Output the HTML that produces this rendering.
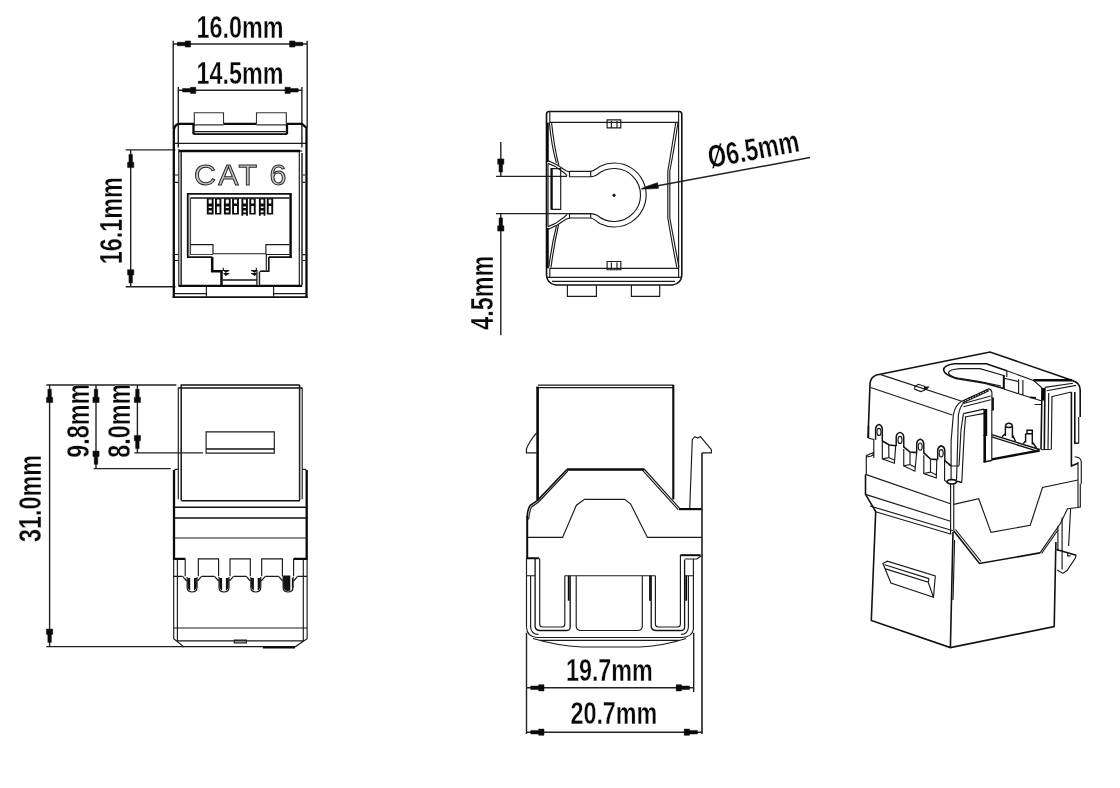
<!DOCTYPE html>
<html><head><meta charset="utf-8"><title>CAT 6 keystone jack dimensions</title>
<style>
html,body{margin:0;padding:0;background:#fff;}
body{width:1120px;height:788px;overflow:hidden;}
svg{display:block;filter:grayscale(1);}
.t{fill:none;stroke:#1a1a1a;stroke-width:1.15;}
.m{fill:none;stroke:#111;stroke-width:1.6;}
.k{fill:none;stroke:#0a0a0a;stroke-width:2.3;}
.d{fill:none;stroke:#222;stroke-width:1.4;}
.a{fill:#0a0a0a;stroke:#0a0a0a;stroke-width:0.5;stroke-linejoin:round;}
.f{fill:#111;stroke:none;}
text{font-family:"Liberation Sans",Arial,sans-serif;font-size:31.3px;font-weight:bold;fill:#0a0a0a;stroke:#fff;stroke-width:0.35px;text-anchor:middle;}
text.o{font-weight:normal;fill:#c6c6c6;stroke:#2a2a2a;stroke-width:1;font-size:30.4px;letter-spacing:2.3px;}
</style></head>
<body>
<svg width="1120" height="788" viewBox="0 0 1120 788">
<rect width="1120" height="788" fill="#fff"/>
<defs>
<path id="ar" d="M3.8,-1.75 H11.7 V-3.1 H17 V3.1 H11.7 V1.75 H3.8 Z"/>
</defs>

<!-- ============ VIEW 1 : FRONT ============ -->
<g id="v1">
<!-- dimensions -->
<path class="d" d="M173.2,40.7V129 M307.2,40.7V127.5 M173.2,44H307.2 M178.3,87V124 M301.9,87V124 M178.3,90.3H301.9 M125.7,149.9H175.5 M125.7,286.7H175.5 M130.7,149.9V286.7"/>
<use href="#ar" class="a" transform="translate(173.6,44)"/>
<use href="#ar" class="a" transform="translate(306.6,44) scale(-1,1)"/>
<use href="#ar" class="a" transform="translate(178.8,90.3)"/>
<use href="#ar" class="a" transform="translate(302,90.3) scale(-1,1)"/>
<use href="#ar" class="a" transform="translate(130.7,150.6) rotate(90)"/>
<use href="#ar" class="a" transform="translate(130.7,286.7) rotate(-90)"/>
<text transform="translate(240,38) scale(0.746,1)">16.0mm</text>
<text transform="translate(240,84.4) scale(0.746,1)">14.5mm</text>
<text transform="translate(122.3,220.8) rotate(-90) scale(0.746,1)">16.1mm</text>
<!-- body -->
<path class="d" d="M178.3,124V147.6 M301.9,124V147.6"/>
<path class="k" d="M173.8,297.8V131Q174,125 178.6,123.9H194.4 M223.4,123.9H256.6 M286.2,123.9H302.1L306.5,127.9V297.8" style="stroke-width:2.3"/>
<path class="m" d="M172.6,297.1H307.7"/>
<path class="t" d="M194.3,124V112.7H223.5V124 M256.5,124V112.7H286.3V124 M194,124.8H223.6 M256.4,124.8H286.4" style="stroke:#333"/>
<path d="M194.5,131.6H286V134H194.5Z" fill="#c4c4c4"/>
<path class="k" d="M193.5,123.9V134.3 M287,123.9V134.3" style="stroke-width:2.3"/>
<path class="m" d="M193.5,134.1H287"/>
<path class="t" d="M194,131.5H287"/>
<path class="t" d="M174,143.4H306"/>
<path class="k" d="M179,151H300.2 M178.6,285.9H302.2" style="stroke-width:2.3"/>
<path class="t" d="M300,151H302.3"/>
<path class="t" d="M178.8,149V286 M299.3,152V285"/>
<path class="m" d="M181.2,152V285 M302,153V285" style="stroke:#333"/>
<path class="t" d="M175,175H178.6 M175,182.3H178.6 M175,254.5H178.6 M175,260.5H178.6 M302.5,175H305.5 M302.5,182.3H305.5 M302.5,254.6H305.5 M302.5,260.5H305.5"/>
<text class="o" transform="translate(241.4,184.8)">CAT 6</text>
<!-- RJ45 opening -->
<path d="M188,195H190.3V256.5H188Z" fill="#c0c0c0"/>
<path class="m" d="M187.7,257.2V193.9H290.6" style="stroke-width:1.7"/>
<path class="k" d="M290.6,193V258" style="stroke-width:2.4"/>
<path class="m" d="M187,257.2H212.2 M268.8,257.2H291.6" style="stroke-width:1.8"/>
<path class="m" d="M190.5,197.9H289.5" style="stroke-width:1.5"/>
<path class="t" d="M190.5,197.9V254.5H213" style="stroke:#444"/>
<path class="t" d="M190.5,244.6H213V253.7H265.9V244.6H289.5 M265.9,254.5H289.5"/>
<path class="k" d="M212.2,257V271.2H222.5 M221.5,270V285" style="stroke-width:2.5"/>
<path class="t" d="M266.3,254V270.5 M260.6,271.2H268.8"/>
<path class="m" d="M268.8,257V271.2H260" style="stroke-width:1.6"/>
<path d="M257,271.5H259.4V285H257Z" fill="#bdbdbd"/>
<path class="t" d="M256.8,270V285 M259.6,271.5V285"/>
<path class="m" d="M222.9,280H256.8"/>
<path class="t" d="M222.5,270.5H229.4 M223.3,267.8V271 M223.5,273.5H229.4 M251,270.5H257.5 M256.3,267.8V271 M251,273.5H256.8"/>
<path class="f" d="M224,271L229,271L225.5,273Z M224,274L229,274L225.5,276Z M251.5,271L256.5,271L255,273Z M251.5,274L256.5,274L255,276Z"/>
<!-- pins -->
<path d="M206.8,198.2H213.6V214.4H206.8Z M215,198.2H221.4V214.4H215Z M223.9,198.2H230.7V214.4H223.9Z M232.1,198.2H238.9V214.4H232.1Z M241.4,198.2H247.9V215.7H241.4Z M249.3,198.2H255.7V214.4H249.3Z M258.9,198.2H265.4V215.7H258.9Z M266.8,198.2H273.2V214.4H266.8Z" fill="#0d0d0d"/>
<path d="M208.7,199.4H211.7V203.4H208.7Z M208.7,206.4H211.7V207.9H208.7Z M208.7,210.6H211.7V212.4H208.7Z M216.9,199.4H219.5V203.8H216.9Z M216.9,206.4H219.5V212.9H216.9Z M225.8,199.4H228.8V203.4H225.8Z M225.8,206.4H228.8V207.9H225.8Z M225.8,210.6H228.8V212.4H225.8Z M234.0,199.4H237.0V203.4H234.0Z M234.0,205.9H237.0V212.9H234.0Z M243.3,199.4H246.0V203.4H243.3Z M243.3,206.4H246.0V207.9H243.3Z M243.3,210.6H246.0V212.4H243.3Z M243.2,214.2H246.1V215.9H243.2Z M251.2,199.4H253.8V203.4H251.2Z M251.2,205.9H253.8V212.9H251.2Z M260.8,199.4H263.5V203.4H260.8Z M260.8,206.4H263.5V207.9H260.8Z M260.8,210.6H263.5V212.4H260.8Z M260.7,214.2H263.6V215.9H260.7Z M268.7,199.4H271.3V203.6H268.7Z M268.7,205.9H271.3V212.9H268.7Z" fill="#fff"/>
<!-- bottom -->
<path class="t" d="M206.4,286.6V297 M273.6,286.6V297 M175,293.6H206.4 M273.6,293.6H305.5"/>
</g>

<!-- ============ VIEW 2 : TOP ============ -->
<g id="v2">
<path class="d" d="M496,176.4H567 M496,213.6H591 M500.8,142V176.4 M500.8,213.6V335.3 M641.6,188.8L810,157.5"/>
<use href="#ar" class="a" transform="translate(500.8,175.9) rotate(-90)"/>
<use href="#ar" class="a" transform="translate(500.8,214.1) rotate(90)"/>
<path class="a" d="M0.5,0 L6,-1.5 L17,-3.2 L17,2.6 L6,1.2 Z" transform="translate(641.3,188.9) rotate(-10.5)"/>
<text transform="translate(493.3,292.7) rotate(-90) scale(0.746,1)">4.5mm</text>
<text transform="translate(755.4,159.7) rotate(-10.5) scale(0.746,1)">Ø6.5mm</text>
<!-- outer body -->
<path class="m" d="M549,111.5H679.2Q681.8,111.5 681.8,114.2V275Q681.5,283.5 672.5,285H555.5Q547,283.5 546.5,275V114.2Q546.5,111.5 549,111.5Z"/>
<path class="t" d="M549.8,112V122.4H678.6 M678.6,112V277.4 M549.6,268.3H678.6 M549.8,268.3V277.4 M546.5,277.4H681.8 M552,281.4H675"/>
<path class="k" d="M547.6,122.4V162 M547.6,228V268.3"/>
<!-- clips -->
<path class="t" d="M607.1,119.8H620.8V127.9H607.1Z M611.4,121V127.9 M617,121V127.9 M607.1,261.5H620.8V269.7H607.1Z M611.4,262.5V269.5 M617,262.5V269.5"/>
<!-- side curves -->
<path class="t" d="M549.4,123Q551.5,146 556.4,163 M551.6,123Q554,146 558.8,165.5 M556.4,226Q551.5,246 548.8,267.5 M558.6,224.5Q553.8,246 551,267.5"/>
<path class="t" d="M677.9,123Q674,150 669.8,171V218Q674.5,243 679,267.5 M675.7,123Q671.5,150 667.8,171V218Q672,243 676.8,267.5"/>
<!-- slot -->
<path class="t" d="M547.5,160.3L557.3,164.9L566.4,171L570,172 M548,163.4L555.2,166.4L564.4,173L567.2,175.6 M547.5,229.7L557.3,225.1L566.4,219L570,218 M548,226.6L555.2,223.6L564.4,217L567.2,214.4"/>
<path class="t" d="M569.5,171.4H590.7V176.7H569.5Z M569.5,213.6H590.7V218H569.5Z"/>
<path class="t" d="M548,164V226"/>
<path class="t" d="M551.5,168.6H560.7V209.3H551.5"/>
<path class="k" d="M551.6,168V209.8"/>
<!-- keyhole -->
<path class="t" d="M590.7,171.4C594,171.2 596.5,168.3 600.2,166.2A32,32 0 1 1 600.2,223.8C596.5,221.7 594,218.4 590.7,218"/>
<path class="t" d="M590.7,176.7C593,176.7 595,175.9 597,174.7A26.5,26.5 0 1 1 597,215.3C595,214.1 593,213.6 590.7,213.6"/>
<path class="m" d="M612.4,195.3H615.6 M614,193.7V196.9"/>
<!-- bottom tabs -->
<path class="t" d="M567.4,285V296.4H596.4V285 M631.4,285V296.4H659.7V285"/>
</g>
<!--V2-->
<!-- ============ VIEW 3 : SIDE ============ -->
<g id="v3">
<path class="d" d="M46.4,385H176.4 M49.6,385V646.6 M46.4,646.6H184 M96,385V468.6 M93.6,468.6H170.7 M137.4,385V452.9 M134.3,452.9H203"/>
<use href="#ar" class="a" transform="translate(49.6,385.5) rotate(90)"/>
<use href="#ar" class="a" transform="translate(49.6,646.1) rotate(-90)"/>
<use href="#ar" class="a" transform="translate(96,385.5) rotate(90)"/>
<use href="#ar" class="a" transform="translate(96,468.1) rotate(-90)"/>
<use href="#ar" class="a" transform="translate(137.4,385.5) rotate(90)"/>
<use href="#ar" class="a" transform="translate(137.4,452.4) rotate(-90)"/>
<text transform="translate(41.3,498.4) rotate(-90) scale(0.746,1)">31.0mm</text>
<text transform="translate(89.3,420.7) rotate(-90) scale(0.746,1)">9.8mm</text>
<text transform="translate(130,420.7) rotate(-90) scale(0.746,1)">8.0mm</text>
<!-- upper body -->
<path class="m" d="M180.7,385H299.8 M177.9,388H302.4"/>
<path class="t" d="M178.3,388V499.3 M302.2,388V499.3"/>
<path class="m" d="M181.2,385V500.5 M299.6,385V500.5" style="stroke:#222"/>
<path class="m" d="M181.4,500.7H299.8"/>
<path class="t" d="M206.1,431.8H274.3V453.1H206.1Z"/>
<path class="m" d="M206.1,449H274.3"/>
<!-- lower body -->
<path class="k" d="M174,470V558.8H185.3 M306.7,470V558.8H293.6"/>
<path class="t" d="M177.9,469.4H175.5L173.8,471 M302.4,469.4H305.2L306.9,471"/>
<path class="m" d="M174,507.2H306.7 M174,518H306.7"/>
<path class="t" d="M174,538H306.7"/>
<path class="t" d="M185.2,558.8V576.2 M198.3,576.2V558.8H218.6V576.2 M230,576.2V558.8H250.3V576.2 M261.7,576.2V558.8H282.4V576.2 M293.6,576.2V558.8"/>
<path class="t" d="M173.7,576.4H182.6 M201.6,576.4H214.5 M233.5,576.4H246.3 M265.3,576.4H278.6 M297.6,576.4H307"/>
<path class="t" d="M182.6,576.4L186.7,581 M201.6,576.4L197.5,581"/>
<path class="f" d="M187.4,578H190.2V590Q189.1,591.3 187.4,587Z M196.8,578H194.0V590Q195.1,591.3 196.8,587Z"/>
<path class="t" d="M187.1,577V587.3Q187.1,592 192.1,592Q197.1,592 197.1,587.3V577"/>
<path class="t" d="M214.5,576.4L218.6,581 M233.5,576.4L229.4,581"/>
<path class="f" d="M219.3,578H222.1V590Q221.0,591.3 219.3,587Z M228.7,578H225.9V590Q227.0,591.3 228.7,587Z"/>
<path class="t" d="M219.0,577V587.3Q219.0,592 224.0,592Q229.0,592 229.0,587.3V577"/>
<path class="t" d="M246.3,576.4L250.4,581 M265.3,576.4L261.2,581"/>
<path class="f" d="M251.1,578H253.9V590Q252.8,591.3 251.1,587Z M260.5,578H257.7V590Q258.8,591.3 260.5,587Z"/>
<path class="t" d="M250.8,577V587.3Q250.8,592 255.8,592Q260.8,592 260.8,587.3V577"/>
<path class="t" d="M278.6,576.4L282.7,581 M297.6,576.4L293.5,581"/>
<path class="f" d="M283.1,575.5H290.3V590.6Q285.1,592.5 283.1,587Z M293.1,578.5H291.9V590Q292.1,590 293.1,587Z"/>
<path class="t" d="M283.1,576V587.3Q283.1,592 288.1,592Q293.1,592 293.1,587.3V577"/>

<path class="t" d="M173.7,558.8V638.7L183.6,646.6H295.5L307.1,638.7V558.8 M177.4,558.8V640.9 M303.3,558.8V640.9 M173.7,628H307.1 M177.6,640.9H303.2"/>
<path class="k" d="M262.9,647.4H295"/>
<path class="t" d="M234.3,640.1H246.4V642.8H234.3Z"/>
</g>
<!--V3-->
<!-- ============ VIEW 4 : REAR/SIDE ============ -->
<g id="v4">
<path class="d" d="M526.5,632.8V734 M693.7,632.8V692 M526.5,687.8H693.7 M526.5,732.2H701.7"/>
<use href="#ar" class="a" transform="translate(527,687.8)"/>
<use href="#ar" class="a" transform="translate(693.2,687.8) scale(-1,1)"/>
<use href="#ar" class="a" transform="translate(527,732.2)"/>
<use href="#ar" class="a" transform="translate(701.2,732.2) scale(-1,1)"/>
<text transform="translate(609.4,680.6) scale(0.746,1)">19.7mm</text>
<text transform="translate(613.9,723.8) scale(0.746,1)">20.7mm</text>
<!-- upper body -->
<path class="t" d="M538,385.2H673.6 M536.4,387.7H673.6" style="stroke-width:1.3"/>
<path class="k" d="M537.6,386.6V500.4" style="stroke-width:2.6"/>
<path class="k" d="M673.3,385V499.4" style="stroke-width:2.1"/>
<path class="t" d="M536.6,432.9Q529,442 526.4,449V452.8H536.6"/>
<path class="t" d="M689.7,509L692.3,439.4L695,436.6L697.7,438.1L700.4,436.6L711.4,449.6V452.8H702"/>
<path class="m" d="M702,452.8V734" style="stroke-width:1.5"/>
<!-- cover -->
<path class="k" d="M566.8,469.5H644.1" style="stroke-width:2.6"/>
<path class="m" d="M566.8,469.5L537.6,500.4L530,505.6Q527.4,510 527.2,516.5"/>
<path class="t" d="M567.8,471L538.6,502L531.5,507Q529.5,511 528.6,519.5"/>
<path class="t" d="M644.1,469L679.9,508.6 M642.4,470.2L678.2,509.6"/>
<path class="k" d="M679,509.1H701.6" style="stroke-width:2.2"/>
<path class="k" d="M527.2,516V558.2H538.9" style="stroke-width:2"/>
<path class="t" d="M526.5,537.4H562.6L576.4,505.2L584.5,499.3H624.6L630.7,504.1L647.4,537.4H701.8"/>
<!-- legs -->
<path class="t" d="M526.5,558V627.5 M539.7,558.2V624Q539.7,627 542.6,627H562Q564.8,627 564.8,624V575.7 M526.5,575.7H535.1 M530.6,575.7V627"/>
<path class="m" d="M535.1,558V627Q536,630.5 540,630.5H566Q570.2,630.5 570.2,627V575.7" style="stroke-width:1.3"/>
<path class="k" d="M568.7,575.7V600.8 M650,575.7V600.8 M686.2,575.7V600.8" style="stroke-width:1.8"/>
<path class="t" d="M564.8,575.7H655.4"/>
<path class="t" d="M576.2,575.7V626Q576.2,630.5 581,630.5H637.5Q642.3,630.5 642.3,626V575.7"/>
<path class="t" d="M655.4,575.7V624Q655.4,627 658.2,627H677.6Q680.4,627 680.4,624V555.1"/>
<path class="m" d="M651.2,575.7V627Q652,630.5 656,630.5H681Q684.6,630.5 684.6,627V559.7" style="stroke-width:1.3"/>
<path class="k" d="M680.4,555.2H700.5" style="stroke-width:2"/>
<path class="t" d="M684.6,559H697L701.5,555.5 M693.4,559.5V629 M684.6,575.7H693.4 M688.4,575.7V627"/>
<!-- bottom -->
<path class="t" d="M526.5,627.5Q527,637 537.4,637.5H682Q692.5,637 693.4,629 M530.6,627Q531,634.3 538.5,634.4 M688.4,627Q688,634.3 681,634.4 M537.4,640.4H681 M533,638.5Q556,645.5 582,647H640Q665,645.5 686,638.5"/>
</g>
<!--V4-->
<!-- ============ VIEW 5 : ISOMETRIC ============ -->
<g id="v5">
<!-- top outline -->
<path class="m" d="M868,438L870,384Q870.5,377 876.5,375L990,352L1072.5,380.6Q1080,382.5 1080.2,390V417"/>
<path class="t" d="M880,374.4L961.8,401.3 M870.6,387.5L952.3,415"/>
<path class="t" d="M914.8,386.6L918.5,384.3L924.5,386.3V390.2L920.8,391.6L914.8,389.4Z"/>
<path class="f" d="M924,386.4L929.6,386.4L927,389.5L924,390.4Z"/>
<!-- ellipse / cable hole -->
<path class="m" d="M1006.8,370.7L986.4,363.8H954.5Q943.5,365 943.6,370.2Q944.5,375 956,378.5L985,383.2L1003.6,388.6"/>
<path class="t" d="M1003.6,375.5L980,368.6H960Q948.5,369.5 948.4,372.9Q950,376.5 958,378L980,381.6L1001,386"/>
<path class="k" d="M1003.8,375V389" style="stroke-width:2"/>
<path class="t" d="M1006.8,370.7V377"/>
<!-- channel behind ellipse -->
<path class="t" d="M1006.8,370.7L1033.6,380.4L1042.1,388 M1003.8,378.2L1018.6,381.5 M1003.8,389L1018.6,393.8L1041,400.7 M1018.6,379.3V394.3 M1022.9,380V395.3 M1034.6,404.5H1041"/>
<path class="k" d="M1030,397.3L1036,397.8" style="stroke-width:1.8"/>
<!-- right block top -->
<path class="k" d="M1033.5,380.3H1072" style="stroke-width:2.4"/>
<path class="t" d="M1044.7,387.4L1073,383.3 M1046.7,390.8L1076,385.4 M1051.3,396.8L1071.3,392"/>
<!-- right frame verticals -->
<path class="m" d="M1042,388L1041,449.5 M1044.9,388L1044.3,449.8"/>
<path class="k" d="M1043.4,388V400.5" style="stroke-width:3"/>
<path class="t" d="M1048.7,393L1048,450 M1052,397L1051.3,449.5 M1041,449.8L1051.3,449.3"/>
<path class="m" d="M1071.4,392V466L1078,463.3 M1074.8,392V443.3H1078.7"/>
<path class="t" d="M1078.7,417V443.3"/>
<path class="t" d="M1074.7,456.7Q1081,457 1081.3,462V483.8 M1078,462V507.5 M1080.3,483.8V507L1078,507.5"/>
<!-- left block near hole -->
<path class="t" d="M961.8,401.3L988.6,388.9Q991.5,389.5 991.9,392.5V410.4 M962.6,403L989,390.8"/>
<path class="k" d="M963.5,401.4L988.5,389.9" style="stroke-width:2.2" stroke-dasharray="1.3 1.5"/>
<path class="t" d="M963.4,403.5L990.7,396 M963.4,406.7L990.7,399.7"/>
<path class="k" d="M993,397.5V410.5" style="stroke-width:1.8"/>
<!-- corner column -->
<path class="t" d="M961.8,401.3Q955,405 953.3,415.2L951.1,441V480 M963.8,402.5Q959.5,407.5 958.4,415L957,466L956.5,480 M963.4,413.6L961,430L959,466 M965.6,417L964.4,430L961.8,482 M949.5,465.3L951.5,466H959"/>
<ellipse class="m" cx="951.8" cy="481.8" rx="4.6" ry="2.2"/>
<path class="m" d="M957,481.2L962,482.6"/>
<!-- window -->
<path class="t" d="M963.4,413.6L984,409.1 M964.8,417L984,413.4"/>
<path class="k" d="M985.3,409V436" style="stroke-width:3.8"/>
<path class="k" d="M984.7,435V462.4" style="stroke-width:2.6"/>
<path class="t" d="M991.8,410V460.5"/>
<path class="m" d="M983.5,462L991.8,460.5"/>
<!-- cavity floor -->
<path class="m" d="M991.8,434.7L1039.7,449.5 M991.8,436.9L1034.8,450.4" style="stroke-width:1.4"/>
<path class="k" d="M991.8,459.4L1039.7,450.5" style="stroke-width:2.3"/>
<!-- cavity pins -->
<path class="m" d="M1005.4,436V426.5Q1005.6,423.3 1008.9,423.3Q1012.2,423.3 1012.4,426.5V438 M1005.4,426.6Q1008.9,428.4 1012.4,426.6 M1002,436.8L1005.4,433.5 M1012.4,434.5L1015.5,441.5" style="stroke-width:1.45"/>
<path class="m" d="M1025.6,442.5V434.2L1027,433.8V430.2H1032.3V444.5 M1027,433.8H1032.3 M1023.2,443.5L1025.6,441 M1032.3,442L1036.5,448" style="stroke-width:1.45"/>
<!-- left face teeth -->
<path class="m" d="M868.5,425.7V438.2"/>
<path class="t" d="M868.5,438.2L873.8,439.5V457.9 M866.3,474V455.6L873.4,452.5 M866.3,457L870.5,456.2Q873.5,455.5 873.6,453"/>
<path class="m" d="M875.6,439.8V428.9Q875.9,425.4 879.0,424.4Q882.0,425.4 882.3,428.9V441" style="stroke-width:1.45"/>
<ellipse class="t" cx="879.0" cy="431.9" rx="2" ry="3.6"/>
<path class="t" d="M882.3,441V458.75L894.4,463.2L895.7,445.8 M903.75,449V465.9L914.9,471.25L916.7,452.5 M923.8,455.2V473.5L936.3,478L936.8,459.6 M944.6,460V480.2L947.5,482.9"/>
<path class="m" d="M882.3,441L889.3,445L896,445.8 M903.75,446.8L910,452L916.7,452.6 M923.8,452.8L930.5,459L937.5,459.6 M944.8,460.6L951.1,465.9"/>
<path class="t" d="M888.8,444.8V457.6 M910,452.2V464.5 M930.5,459.4V472.1 M882.3,458.75L888.8,457.6L894.6,460.3 M903.75,465.9L910,464.5L915.2,467.3 M923.8,473.5L930.5,472.1L936.5,475"/>
<path class="m" d="M896.2,446V436.9Q896.5,433.4 900.0,432.4Q903.45,433.4 903.75,436.9V447.5" style="stroke-width:1.45"/>
<ellipse class="t" cx="900.0" cy="439.9" rx="2" ry="3.6"/>
<path class="m" d="M916.7,452.5V443.6Q917.0,440.1 920.2,439.1Q923.5,440.1 923.8,443.6V453.6" style="stroke-width:1.45"/>
<ellipse class="t" cx="920.2" cy="446.6" rx="2" ry="3.6"/>
<path class="m" d="M937.7,459.6V450.3Q938.0,446.8 941.2,445.8Q944.5,446.8 944.8,450.3V461" style="stroke-width:1.45"/>
<ellipse class="t" cx="941.2" cy="453.3" rx="2" ry="3.6"/>
<!-- lower left face -->
<path class="t" d="M865.5,474.4L950.5,503.75 M865.5,494.4L950.5,521.25 M870,506L953,530.7 M875.6,511.8L951.3,534.2"/>
<path class="m" d="M865.5,474.4V494.4L875.7,511.5L871.3,620.4L950.4,647.6L1054.2,626.6L1055.9,542"/>
<path class="t" d="M1057.9,526V551"/>
<path class="t" d="M950.6,483.8V534 M953.75,483.8V530"/>
<path class="m" d="M953,532L950.4,647.6"/>
<path class="t" d="M954.6,540L953,600"/>
<!-- left face slot -->
<path class="t" d="M882.9,563.5L887.3,561.2L935.3,576L933.5,597.3L890.9,583Z M884.6,564.8L929,578.6 M885.5,568.9L928.2,582.2L933.5,597.3 M929,578.6L928.2,582.2"/>
<!-- cover on right face -->
<path class="t" d="M953.75,504.4L978.75,498.75L991,532.4L1030.2,525.3L1042.5,487.5L1078,480"/>
<path class="m" d="M953.5,530.5L979.5,563.5L1040,552.9"/>
<path class="t" d="M1040,552.9L1060.4,523.5L1067.5,508.75L1078,507.5 M1041.5,553.5L1058,530"/>
<path class="t" d="M955.5,529.5L981,561.5"/>
<!-- latch -->
<path class="t" d="M1070.6,509L1068.6,546 M1062.1,517.5V569.5"/>
<path class="m" d="M1056.5,549.6L1076.1,555.2"/>
<path class="t" d="M1076.1,555.2L1075.4,558L1067,570.6L1062.8,573.4L1057.2,569.9 M1067.7,552.4V555.9H1070.5"/>
</g>
<!--V5-->
</svg>
</body></html>
